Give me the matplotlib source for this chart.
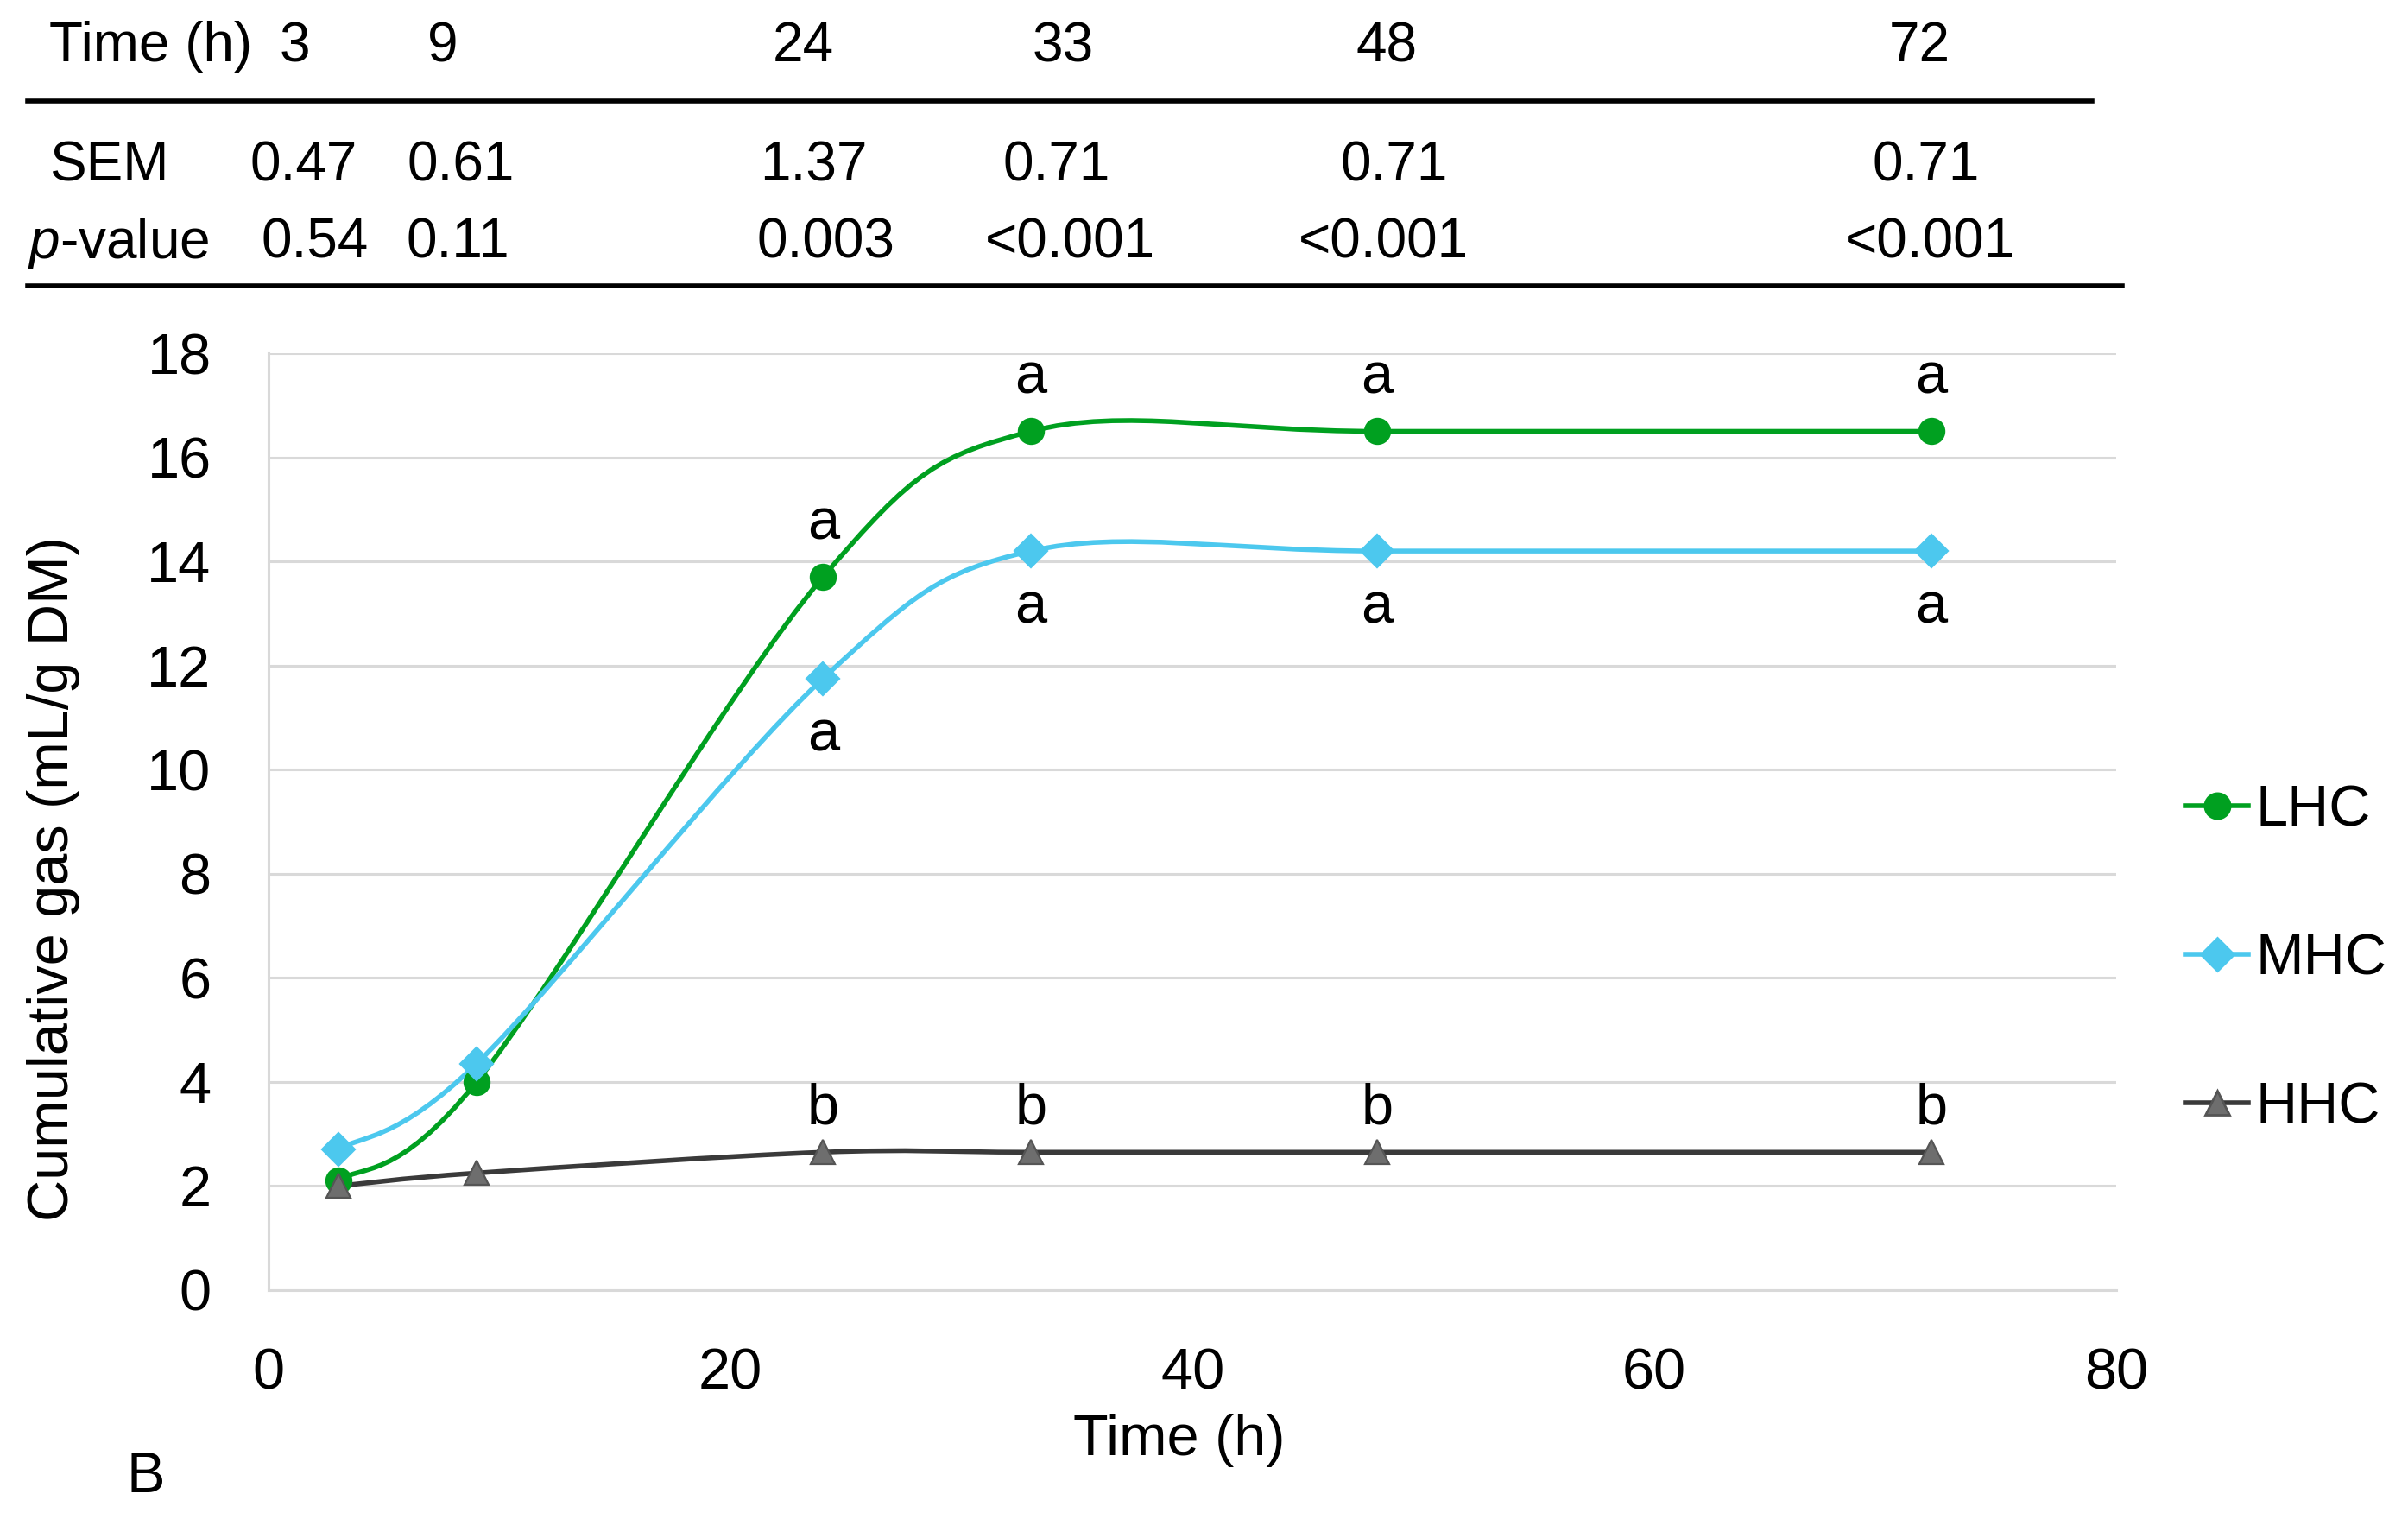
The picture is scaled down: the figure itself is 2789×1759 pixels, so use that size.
import matplotlib
matplotlib.use("Agg")
import matplotlib.pyplot as plt
from matplotlib.path import Path
from matplotlib.patches import PathPatch
from matplotlib.lines import Line2D

plt.rcParams['font.family'] = ['Liberation Sans', 'DejaVu Sans']
plt.rcParams['mathtext.fontset'] = 'custom'
plt.rcParams['mathtext.it'] = 'Liberation Sans:italic'
plt.rcParams['mathtext.rm'] = 'Liberation Sans'

# data
time_h = [3, 9, 24, 33, 48, 72]
lhc = [2.1, 4.0, 13.7, 16.5, 16.5, 16.5]
mhc = [2.7, 4.35, 11.75, 14.2, 14.2, 14.2]
hhc = [2.0, 2.25, 2.65, 2.65, 2.65, 2.65]
lhc_letters = ['', '', 'a', 'a', 'a', 'a']
mhc_letters = ['', '', 'a', 'a', 'a', 'a']
hhc_letters = ['', '', 'b', 'b', 'b', 'b']

table_times = ['3', '9', '24', '33', '48', '72']
sem = ['0.47', '0.61', '1.37', '0.71', '0.71', '0.71']
p_values = ['0.54', '0.11', '0.003', '<0.001', '<0.001', '<0.001']

# column centres of the table (in 1568x989 px of the picture)
W = 1568.0
H = 989.0
head_x = [192, 288, 523, 692, 903, 1250]
sem_x = [198, 300, 530, 688, 908, 1254]
p_x = [205, 298, 538, 697, 901, 1257]

FS = 24


def excel_smooth(xs, ys):
    # cubic bezier through the points, like the smoothed line in Excel
    pts = list(zip(xs, ys))
    n = len(pts)
    verts = [pts[0]]
    codes = [Path.MOVETO]
    for i in range(n - 1):
        p_prev = pts[i - 1] if i > 0 else pts[i]
        p0 = pts[i]
        p1 = pts[i + 1]
        p_next = pts[i + 2] if i + 2 < n else pts[i + 1]
        c1 = (p0[0] + (p1[0] - p_prev[0]) / 6, p0[1] + (p1[1] - p_prev[1]) / 6)
        c2 = (p1[0] - (p_next[0] - p0[0]) / 6, p1[1] - (p_next[1] - p0[1]) / 6)
        verts += [c1, c2, p1]
        codes += [Path.CURVE4] * 3
    return Path(verts, codes)


fig = plt.figure(figsize=(13.945, 8.795), dpi=200)
ax = fig.add_axes([175 / W, 1 - 840 / H, (1378 - 175) / W, (840 - 230) / H])

series = [
    ('LHC', lhc, lhc_letters, '#00A020', 'o', 10.5, '#00A020', '#00A020', 22),
    ('MHC', mhc, mhc_letters, '#4CC8EE', 'D', 9.5, '#4CC8EE', '#4CC8EE', -24),
    ('HHC', hhc, hhc_letters, '#3A3A3A', '^', 10, '#6E6E6E', '#555555', 18),
]

handles = []
for name, vals, letters, col, mk, ms, mcol, ecol, off in series:
    ax.add_patch(PathPatch(excel_smooth(time_h, vals), facecolor='none',
                           edgecolor=col, lw=2.0, zorder=3))
    ax.plot(time_h, vals, linestyle='none', marker=mk, ms=ms, color=mcol,
            mec=ecol, mew=0.8, zorder=4)
    for t, v, lab in zip(time_h, vals, letters):
        if lab:
            ax.annotate(lab, (t, v), xytext=(0, off), textcoords='offset points',
                        ha='center', va='center', fontsize=FS, color='black')
    handles.append(Line2D([], [], color=col, lw=2.0, marker=mk, ms=ms,
                          mfc=mcol, mec=ecol, label=name))

ax.set_xlim(0, 80)
ax.set_ylim(0, 18)
ax.set_xticks(range(0, 81, 20))
ax.set_yticks(range(0, 19, 2))
ax.grid(axis='y', color='#D9D9D9', lw=1.1)
ax.set_axisbelow(True)
ax.tick_params(length=0, labelsize=FS, pad=24)
for s in ['top', 'right']:
    ax.spines[s].set_visible(False)
for s in ['left', 'bottom']:
    ax.spines[s].set_color('#D9D9D9')
    ax.spines[s].set_linewidth(1.1)

ax.set_xlabel('Time (h)', fontsize=FS)
ax.xaxis.set_label_coords(768 / W, 1 - 938 / H, transform=fig.transFigure)
ax.xaxis.label.set_va('center')
ax.set_ylabel('Cumulative gas (mL/g DM)', fontsize=FS)
ax.yaxis.set_label_coords(35 / W, 1 - 572 / H, transform=fig.transFigure)
ax.yaxis.label.set_va('center')

fig.legend(handles=handles, loc='center left', bbox_to_anchor=(1423 / W, 1 - 625 / H),
           bbox_transform=fig.transFigure, frameon=False, fontsize=FS,
           handlelength=1.1, handletextpad=0.12, labelspacing=1.65,
           borderpad=0, borderaxespad=0)

fig.text(95 / W, 1 - 962 / H, 'B', fontsize=FS, ha='center', va='center')

# table above the chart
TFS = 23
fig.text(32 / W, 1 - 40 / H, 'Time (h)', fontsize=TFS, ha='left', va='baseline')
fig.text(32 / W, 1 - 118 / H, 'SEM', fontsize=TFS, ha='left', va='baseline')
fig.text(18 / W, 1 - 168 / H, '$p$-value', fontsize=TFS, ha='left', va='baseline')
for x, lab in zip(head_x, table_times):
    fig.text(x / W, 1 - 40 / H, lab, fontsize=TFS, ha='center', va='baseline')
for x, lab in zip(sem_x, sem):
    fig.text(x / W, 1 - 118 / H, lab, fontsize=TFS, ha='center', va='baseline')
for x, lab in zip(p_x, p_values):
    fig.text(x / W, 1 - 168 / H, lab, fontsize=TFS, ha='center', va='baseline')

fig.add_artist(Line2D([18 / W, 1362 / W], [1 - 66 / H, 1 - 66 / H], color='black', lw=2.0))
fig.add_artist(Line2D([18 / W, 1382 / W], [1 - 186 / H, 1 - 186 / H], color='black', lw=2.0))

fig.savefig('out.png', dpi=200)
